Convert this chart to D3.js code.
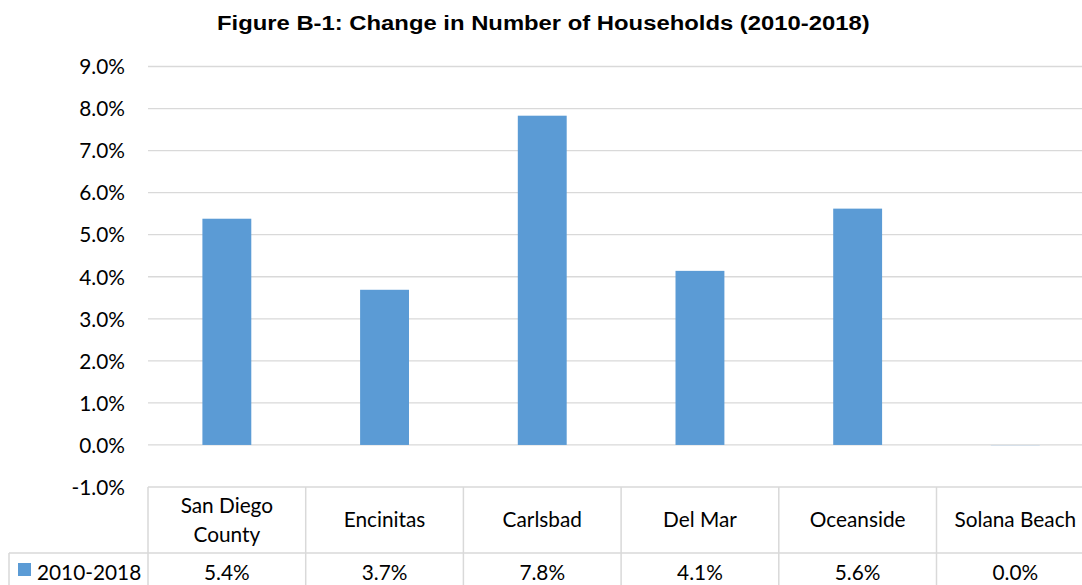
<!DOCTYPE html>
<html><head><meta charset="utf-8">
<script src="https://cdn.jsdelivr.net/npm/d3@7"></script>
<style>body{margin:0;background:#fff}svg{display:block}</style>
</head><body>
<svg id="c" width="1082" height="585"></svg>
<script>
const categories = ["San Diego County","Encinitas","Carlsbad","Del Mar","Oceanside","Solana Beach"];
const categoryLines = [["San Diego","County"],["Encinitas"],["Carlsbad"],["Del Mar"],["Oceanside"],["Solana Beach"]];
const values = [0.0538, 0.0369, 0.0783, 0.0414, 0.0562, -0.0002];
const tableLabels = ["5.4%","3.7%","7.8%","4.1%","5.6%","0.0%"];
const seriesName = "2010-2018";
const yTicks = [-0.01,0,0.01,0.02,0.03,0.04,0.05,0.06,0.07,0.08,0.09];

const svg = d3.select("#c");
const font = "Lato, 'Open Sans', sans-serif";
const fs = "20.8px";
const left = 148, colW = 157.7;
const x = d3.scaleBand().domain(categories).range([left, left + colW*6]).paddingInner(0.69).paddingOuter(0.345);
const y = d3.scaleLinear().domain([-0.01, 0.09]).range([487, 66.5]);

// title (stretched horizontally to match the condensed-bold look of the original)
const title = svg.append("text").attr("x", 0).attr("y", 0)
  .style("font-family","'Liberation Sans', Arial, sans-serif").style("font-weight","bold").style("font-size","20.5px")
  .text("Figure B-1: Change in Number of Households (2010-2018)");
const tw = title.node().getComputedTextLength();
const sx = 653 / tw;
title.attr("transform", `translate(217,29.5) scale(${sx},1)`);

// gridlines
svg.append("g").selectAll("line").data(yTicks.filter(d=>d>-0.01)).join("line")
  .attr("x1", left).attr("x2", 1082).attr("y1", d=>y(d)).attr("y2", d=>y(d))
  .attr("stroke", "#d9d9d9").attr("stroke-width", 1.3);

// y axis labels
const fmt = d => d3.format(".1%")(d).replace("\u2212","-");
const yAxis = d3.axisLeft(y).tickValues(yTicks).tickFormat(fmt).tickSize(0).tickPadding(0);
const ga = svg.append("g").attr("transform", "translate(125,0)").call(yAxis);
ga.select(".domain").remove();
ga.selectAll("text").style("font-family", font).style("font-size",fs).attr("fill","#000").attr("dy","0.35em");

// bars
svg.append("g").selectAll("rect").data(values).join("rect")
  .attr("x", (d,i)=>x(categories[i])).attr("width", x.bandwidth())
  .attr("y", d=>y(Math.max(0,d))).attr("height", d=>Math.max(1, Math.abs(y(d)-y(0))))
  .attr("fill", (d)=> d<0 ? "#d6e0ea" : "#5b9bd5");

// data table
const tg = svg.append("g");
const gridC = "#d9d9d9";
const rTop = 487, rMid = 553, rBot = 600;
tg.append("line").attr("x1", left).attr("x2", 1082).attr("y1", rTop).attr("y2", rTop).attr("stroke", gridC).attr("stroke-width",1.5);
tg.append("line").attr("x1", 9).attr("x2", 1082).attr("y1", rMid).attr("y2", rMid).attr("stroke", gridC).attr("stroke-width",1.5);
tg.append("line").attr("x1", 9).attr("x2", 9).attr("y1", rMid).attr("y2", rBot).attr("stroke", gridC).attr("stroke-width",1.5);
const bounds = d3.range(7).map(i => left + i*colW);
tg.selectAll("line.v").data(bounds).join("line").attr("class","v")
  .attr("x1", d=>d).attr("x2", d=>d).attr("y1", rTop).attr("y2", rBot).attr("stroke", gridC).attr("stroke-width",1.5);

const cx = i => x(categories[i]) + x.bandwidth()/2;
categories.forEach((c,i)=>{
  const lines = categoryLines[i];
  const t = tg.append("text").attr("text-anchor","middle").style("font-family",font).style("font-size",fs);
  const baseY = lines.length === 2 ? 513 : 527;
  lines.forEach((ln,j)=> t.append("tspan").attr("x", cx(i)).attr("y", baseY + j*29).text(ln));
  tg.append("text").attr("x", cx(i)).attr("y", 580).attr("text-anchor","middle")
    .style("font-family",font).style("font-size",fs).text(tableLabels[i]);
});
// legend key
tg.append("rect").attr("x", 18).attr("y", 563).attr("width", 13).attr("height", 13).attr("fill","#5b9bd5");
tg.append("text").attr("x", 37).attr("y", 580).style("font-family",font).style("font-size",fs).text(seriesName);
</script>
</body></html>
